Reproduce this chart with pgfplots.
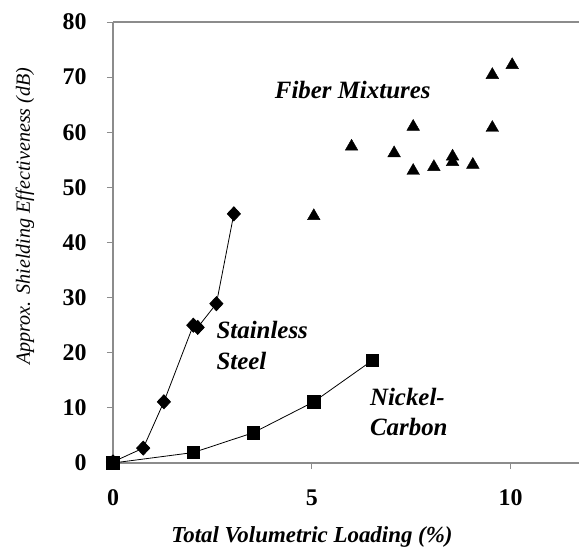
\documentclass[border=0pt]{standalone}
\usepackage{fontspec}
\setmainfont{Liberation Serif}
\usepackage{pgfplots}
\pgfplotsset{compat=1.18}
\definecolor{axisgray}{HTML}{8C8C8C}

\begin{document}
\begin{tikzpicture}
\begin{axis}[
  name=ax,
  scale only axis,
  width=466bp, height=441bp,
  xmin=0, xmax=11.72, ymin=0, ymax=80,
  axis x line=bottom, axis y line=left,
  axis line style={axisgray, line width=1.4bp, -},
  xtick={0,5,10}, ytick={0,10,...,80},
  tick align=outside,
  major tick length=6bp,
  tick style={axisgray, line width=0.8bp},
  /pgf/number format/assume math mode=true,
  ticklabel style={font=\fontsize{24}{26}\selectfont\bfseries},
  xticklabel style={yshift=-17bp},
  yticklabel style={xshift=-17bp},
  xlabel={\textbf{\textit{Total Volumetric Loading (\%)}}},
  ylabel={\textit{Approx. Shielding Effectiveness (dB)}},
  xlabel style={font=\fontsize{23}{25}\selectfont, at={(rel axis cs:0.427,0)}, anchor=center, yshift=-74bp},
  ylabel style={font=\fontsize{20.2}{22}\selectfont, at={(rel axis cs:0,0.56)}, anchor=center, yshift=88bp},
  clip=false,
]
% top border of the plot area
\draw[axisgray, line width=1.4bp] (rel axis cs:0,1) -- (rel axis cs:1,1);
\coordinate (o) at (rel axis cs:0,0);
\coordinate (tr) at (rel axis cs:1,1);

% stainless steel fibres
\addplot[black, line width=0.8bp, mark=diamond*, mark size=7bp, mark options={solid, fill=black, xscale=1.25}]
  coordinates {(0,0.2) (0.76,2.7) (1.28,11.1) (2.02,25.0) (2.13,24.6) (2.6,28.9) (3.04,45.2)};

% nickel-coated carbon fibres
\addplot[black, line width=0.8bp, mark=square*, mark size=6.3bp, mark options={solid, fill=black}]
  coordinates {(0,0) (2.02,1.9) (3.53,5.5) (5.05,11.1) (6.52,18.6)};

% fibre mixtures
\addplot[only marks, mark=triangle*, mark size=7.3bp, mark options={fill=black, draw=black}]
  coordinates {(5.05,44.8) (6.0,57.4) (7.07,56.2) (7.55,61.0) (7.55,53.0) (8.07,53.7)
               (8.54,55.6) (8.54,54.6) (9.05,54.1) (9.54,70.4) (9.54,60.8) (10.04,72.2)};

\node[font=\fontsize{25}{27}\selectfont\bfseries\itshape] at (axis cs:6.03,67.7) {Fiber Mixtures};
\node[font=\fontsize{25}{31.5}\selectfont\bfseries\itshape, align=left, anchor=west, inner sep=0pt] at (axis cs:2.6,21.3) {Stainless\\Steel};
\node[font=\fontsize{25}{30.5}\selectfont\bfseries\itshape, align=left, anchor=west, inner sep=0pt] at (axis cs:6.46,9.3) {Nickel-\\Carbon};
\end{axis}
\pgfresetboundingbox
\path[use as bounding box] ([shift={(-113bp,-86bp)}]o) rectangle ([shift={(0bp,22bp)}]tr);
\end{tikzpicture}
\end{document}
